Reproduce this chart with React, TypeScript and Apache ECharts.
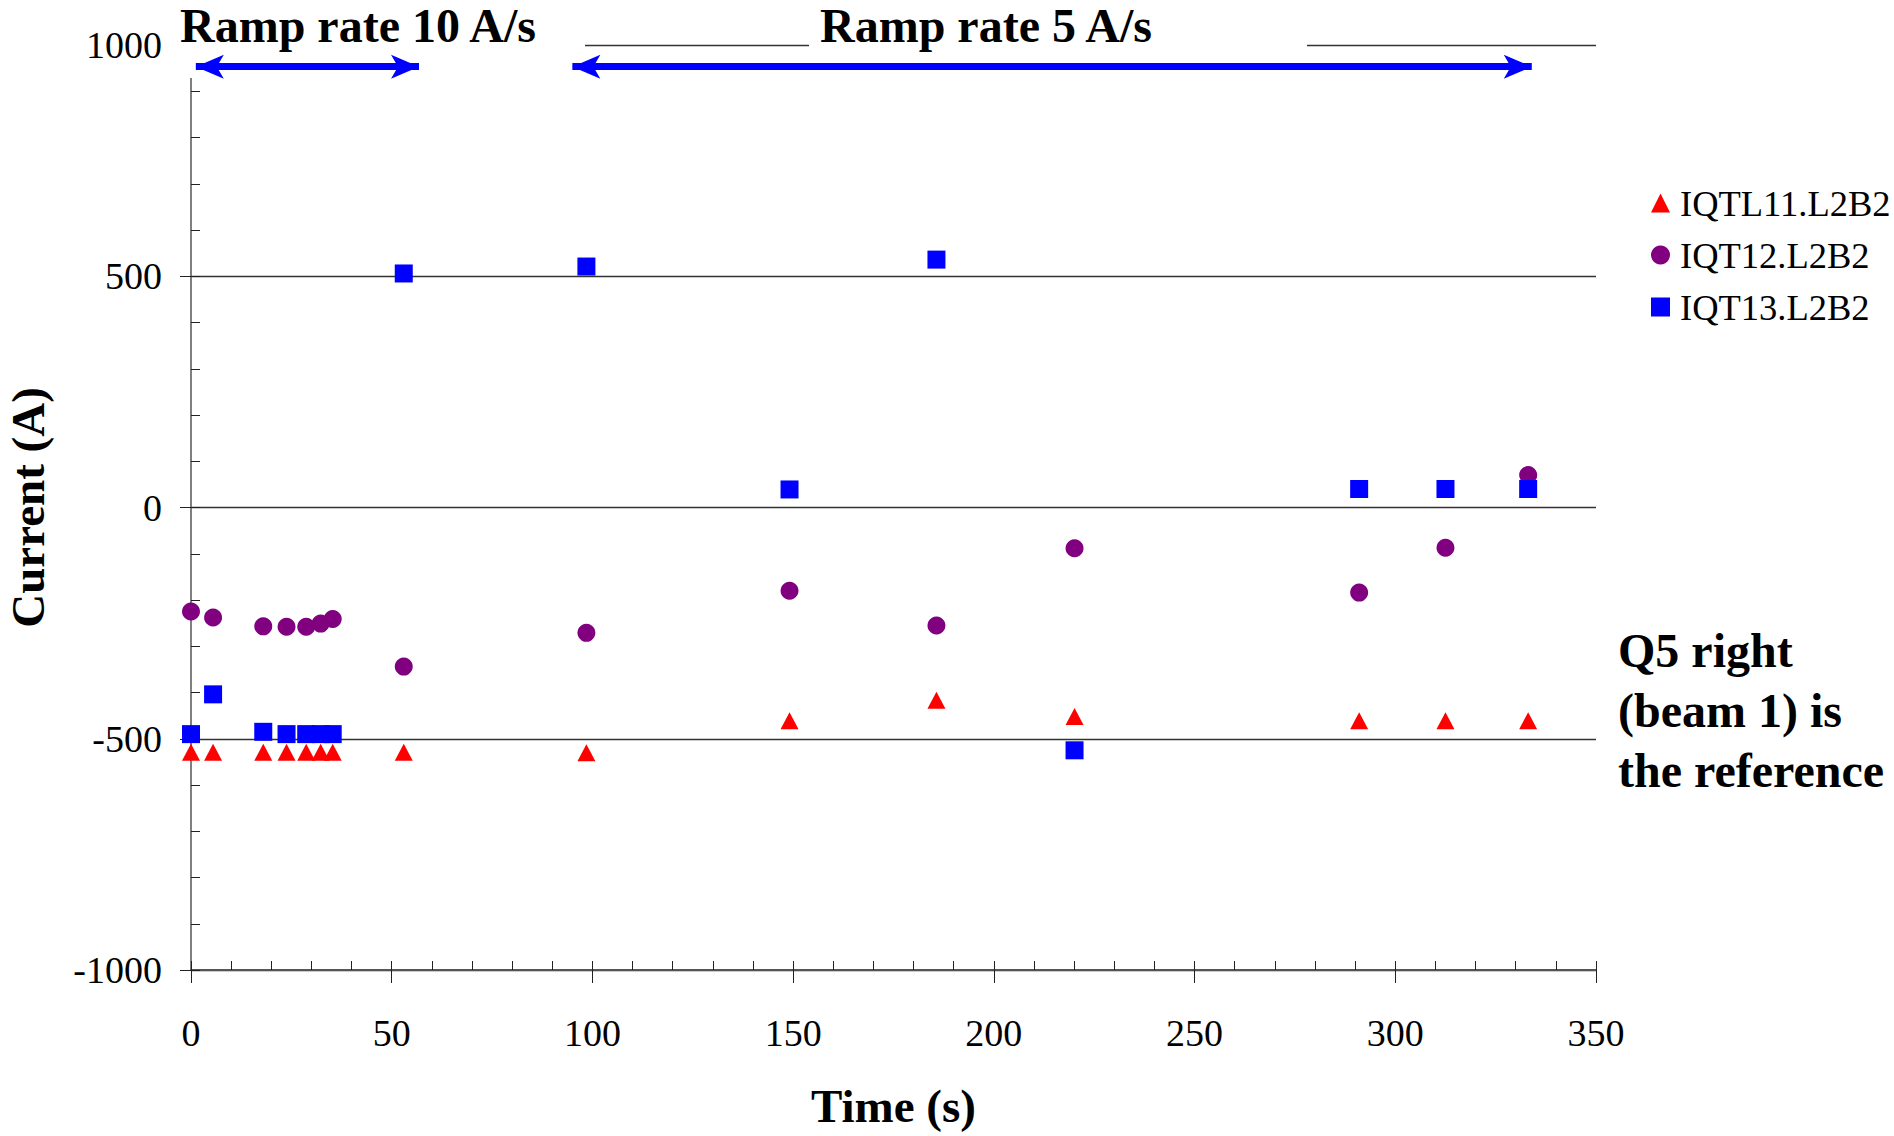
import React, { useEffect, useRef } from "react";
import * as echarts from "echarts";

const timeS = [0, 5.5, 18, 23.8, 28.7, 32.3, 35.3, 53, 98.5, 149.1, 185.7, 220.1, 291, 312.5, 333.1];
const iqtl11 = [-529, -529, -529, -529, -529, -529, -529, -529, -530, -461, -417, -452, -461, -461, -461];
const iqt12 = [-225, -238, -257, -258, -258, -251, -241, -344, -271, -180, -255, -88, -184, -87, 70];
const iqt13 = [-490, -404, -485, -490, -490, -490, -490, 506, 521, 39, 536, -525, 40, 40, 40];

const seriesNames = ["IQTL11.L2B2", "IQT12.L2B2", "IQT13.L2B2"];
const seriesColors = ["#ff0000", "#800080", "#0000ff"];
const seriesSymbols = ["triangle", "circle", "rect"];

// ramp-rate ranges (s) and the arrow height (A)
const ramp10 = [1.2, 56.8];
const ramp5 = [95, 334];
const arrowLevel = 953;

const FONT = "'Liberation Serif', 'Times New Roman', serif";

export default function App() {
  const ref = useRef<HTMLDivElement>(null);

  useEffect(() => {
    document.body.style.margin = "0";
    const chart = echarts.init(ref.current!, null, { renderer: "svg" });
    const values = [iqtl11, iqt12, iqt13];
    const scatter = seriesNames.map((name, k) => ({
      name,
      type: "scatter",
      xAxisIndex: 0,
      yAxisIndex: 0,
      symbol: seriesSymbols[k],
      symbolSize: k === 0 ? [18, 17] : 18,
      itemStyle: { color: seriesColors[k], opacity: 1 },
      emphasis: { disabled: true },
      data: timeS.map((t, i) => [t, values[k][i]]),
      z: 2 + k * 0.1,
    }));

    chart.setOption({
      animation: false,
      backgroundColor: "#ffffff",
      textStyle: { fontFamily: FONT },
      grid: { left: 191, top: 45, width: 1405, height: 925, outerBoundsMode: "none", containLabel: false },
      legend: {
        orient: "vertical",
        left: 1646,
        top: 178,
        itemWidth: 19,
        itemHeight: 19,
        itemGap: 12,
        data: seriesNames,
        textStyle: { fontFamily: FONT, fontSize: 36.5, color: "#000", lineHeight: 40, padding: [0, 0, 0, 5] },
      },
      xAxis: [
        {
          type: "value",
          min: 0,
          max: 350,
          interval: 50,
          position: "bottom",
          name: "Time (s)",
          nameLocation: "middle",
          nameGap: 112,
          nameTextStyle: { fontFamily: FONT, fontSize: 47, fontWeight: "bold", color: "#000" },
          axisLine: { show: true, onZero: false, lineStyle: { color: "#555", width: 2 } },
          axisTick: { show: true, inside: false, length: 13, lineStyle: { color: "#222", width: 1 } },
          axisLabel: { fontFamily: FONT, fontSize: 38, color: "#000", margin: 44 },
          splitLine: { show: false },
        },
        {
          type: "value",
          min: 0,
          max: 350,
          interval: 10,
          position: "bottom",
          offset: 0,
          axisLine: { show: false, onZero: false },
          axisTick: { show: true, inside: true, length: 9, lineStyle: { color: "#222", width: 1 } },
          axisLabel: { show: false },
          splitLine: { show: false },
        },
      ],
      yAxis: [
        {
          type: "value",
          min: -1000,
          max: 1000,
          interval: 500,
          position: "left",
          name: "Current (A)",
          nameLocation: "middle",
          nameGap: 140,
          nameTextStyle: { fontFamily: FONT, fontSize: 47, fontWeight: "bold", color: "#000" },
          axisLine: { show: true, onZero: false, lineStyle: { color: "#555", width: 1.5 } },
          axisTick: { show: true, inside: false, length: 11, lineStyle: { color: "#222", width: 1 } },
          axisLabel: { fontFamily: FONT, fontSize: 38, color: "#000", margin: 29, formatter: (v: number) => String(v) },
          splitLine: { show: true, lineStyle: { color: "#333", width: 1.3 } },
        },
        {
          type: "value",
          min: -1000,
          max: 1000,
          interval: 100,
          position: "left",
          offset: 0,
          axisLine: { show: false, onZero: false },
          axisTick: { show: true, inside: true, length: 9, lineStyle: { color: "#222", width: 1 } },
          axisLabel: { show: false },
          splitLine: { show: false },
        },
      ],
      series: [
        ...scatter,
        {
          name: "ramp",
          type: "scatter",
          data: [],
          xAxisIndex: 0,
          yAxisIndex: 0,
          z: 5,
          markLine: {
            silent: true,
            symbol: ["arrow", "arrow"],
            symbolSize: [18, 28],
            label: { show: false },
            lineStyle: { color: "#0000ff", width: 7, type: "solid", opacity: 1 },
            data: [
              [{ coord: [ramp10[0], arrowLevel] }, { coord: [ramp10[1], arrowLevel] }],
              [{ coord: [ramp5[0], arrowLevel] }, { coord: [ramp5[1], arrowLevel] }],
            ],
          },
        },
      ],
      graphic: [
        { type: "rect", z: 1, shape: { x: 168, y: 0, width: 417, height: 78 }, style: { fill: "#ffffff" } },
        { type: "rect", z: 1, shape: { x: 809, y: 0, width: 498, height: 56 }, style: { fill: "#ffffff" } },
        {
          type: "text",
          z: 10,
          x: 358,
          y: 25,
          style: { text: "Ramp rate 10 A/s", fontFamily: FONT, fontSize: 48, lineHeight: 40, fontWeight: "bold", fill: "#000", align: "center", verticalAlign: "middle" },
        },
        {
          type: "text",
          z: 10,
          x: 986,
          y: 25,
          style: { text: "Ramp rate 5 A/s", fontFamily: FONT, fontSize: 48, lineHeight: 40, fontWeight: "bold", fill: "#000", align: "center", verticalAlign: "middle" },
        },
        {
          type: "text",
          z: 10,
          x: 1618,
          y: 710,
          style: {
            text: "Q5 right\n(beam 1) is\nthe reference",
            fontFamily: FONT,
            fontSize: 48,
            fontWeight: "bold",
            lineHeight: 60,
            fill: "#000",
            align: "left",
            verticalAlign: "middle",
          },
        },
      ],
    });
    return () => chart.dispose();
  }, []);

  return <div ref={ref} style={{ position: "absolute", left: 0, top: 0, width: 1894, height: 1136 }} />;
}
